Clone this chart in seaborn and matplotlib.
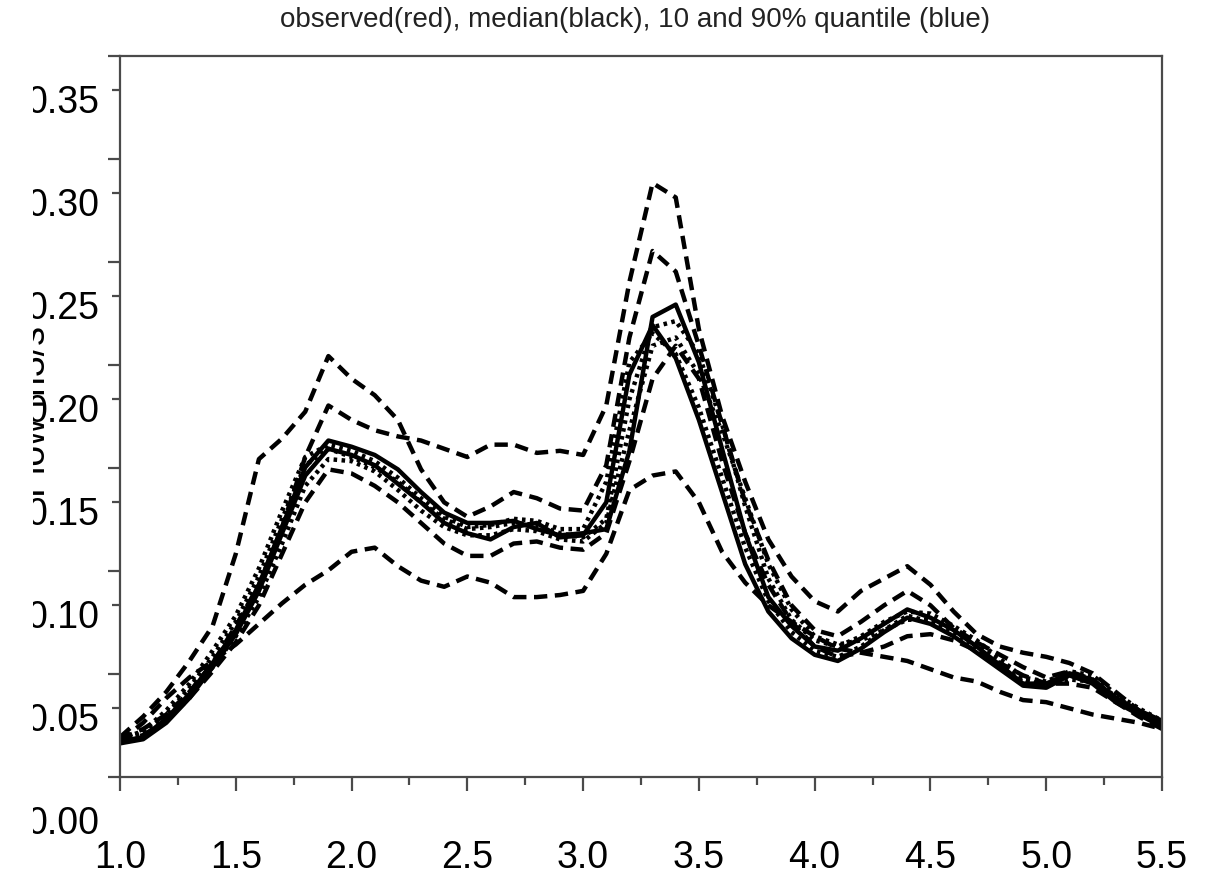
import numpy as np
import pandas as pd
import seaborn as sns
import matplotlib.pyplot as plt
import matplotlib.transforms as mtransforms
from matplotlib.patches import Rectangle

# ---- data -------------------------------------------------------------
flow_x = [1.0, 1.1, 1.2, 1.3, 1.4, 1.5, 1.6, 1.7, 1.8, 1.9,
          2.0, 2.1, 2.2, 2.3, 2.4, 2.5, 2.6, 2.7, 2.8, 2.9,
          3.0, 3.1, 3.2, 3.3, 3.4, 3.5, 3.6, 3.7, 3.8, 3.9,
          4.0, 4.1, 4.2, 4.3, 4.4, 4.5, 4.6, 4.7, 4.8, 4.9,
          5.0, 5.1, 5.2, 5.3, 5.4, 5.5]

# upper quantile bands (dashed)
q90_a = [0.035, 0.040, 0.047, 0.058, 0.072, 0.090, 0.110, 0.138, 0.172, 0.197,
         0.190, 0.185, 0.182, 0.180, 0.176, 0.172, 0.178, 0.178, 0.174, 0.175,
         0.173, 0.197, 0.257, 0.305, 0.298, 0.234, 0.192, 0.160, 0.132, 0.114,
         0.102, 0.097, 0.107, 0.113, 0.119, 0.110, 0.097, 0.086, 0.080, 0.077,
         0.075, 0.072, 0.067, 0.058, 0.049, 0.042]
q90_b = [0.036, 0.046, 0.058, 0.073, 0.090, 0.125, 0.171, 0.181, 0.194, 0.221,
         0.210, 0.202, 0.190, 0.166, 0.150, 0.143, 0.148, 0.155, 0.152, 0.147,
         0.146, 0.168, 0.230, 0.272, 0.262, 0.226, 0.188, 0.150, 0.122, 0.100,
         0.088, 0.085, 0.092, 0.100, 0.107, 0.100, 0.089, 0.082, 0.076, 0.070,
         0.065, 0.068, 0.064, 0.055, 0.047, 0.041]
# lower quantile bands (dashed)
q10_a = [0.034, 0.037, 0.044, 0.055, 0.068, 0.082, 0.100, 0.125, 0.150, 0.166,
         0.164, 0.158, 0.150, 0.140, 0.130, 0.124, 0.124, 0.130, 0.131, 0.128,
         0.127, 0.135, 0.170, 0.210, 0.226, 0.210, 0.170, 0.135, 0.110, 0.092,
         0.080, 0.075, 0.077, 0.080, 0.085, 0.086, 0.083, 0.078, 0.072, 0.066,
         0.062, 0.062, 0.060, 0.053, 0.046, 0.040]
q10_b = [0.034, 0.043, 0.055, 0.065, 0.073, 0.081, 0.091, 0.101, 0.110, 0.117,
         0.126, 0.128, 0.119, 0.112, 0.109, 0.114, 0.111, 0.104, 0.104, 0.105,
         0.107, 0.125, 0.156, 0.163, 0.165, 0.150, 0.126, 0.111, 0.100, 0.092,
         0.085, 0.079, 0.077, 0.075, 0.073, 0.069, 0.065, 0.063, 0.058, 0.054,
         0.053, 0.050, 0.047, 0.045, 0.043, 0.040]
# observed and median (solid)
observed = [0.034, 0.036, 0.045, 0.057, 0.072, 0.088, 0.110, 0.138, 0.167, 0.180,
            0.177, 0.173, 0.166, 0.155, 0.145, 0.140, 0.140, 0.141, 0.137, 0.134,
            0.135, 0.137, 0.175, 0.240, 0.246, 0.218, 0.176, 0.135, 0.104, 0.090,
            0.080, 0.078, 0.084, 0.091, 0.098, 0.094, 0.088, 0.080, 0.071, 0.062,
            0.062, 0.067, 0.064, 0.055, 0.049, 0.044]
median = [0.033, 0.035, 0.043, 0.055, 0.070, 0.086, 0.107, 0.135, 0.163, 0.176,
          0.173, 0.168, 0.159, 0.150, 0.140, 0.135, 0.132, 0.138, 0.140, 0.133,
          0.134, 0.150, 0.212, 0.236, 0.220, 0.190, 0.155, 0.120, 0.097, 0.084,
          0.076, 0.073, 0.079, 0.087, 0.094, 0.091, 0.085, 0.077, 0.069, 0.061,
          0.060, 0.066, 0.062, 0.053, 0.047, 0.042]
# individual simulations (dotted)
sim_1 = [0.035, 0.038, 0.047, 0.060, 0.075, 0.092, 0.114, 0.142, 0.168, 0.176,
         0.172, 0.167, 0.160, 0.150, 0.142, 0.137, 0.138, 0.140, 0.139, 0.135,
         0.133, 0.142, 0.200, 0.235, 0.238, 0.222, 0.188, 0.148, 0.113, 0.093,
         0.083, 0.080, 0.085, 0.092, 0.097, 0.096, 0.090, 0.083, 0.074, 0.065,
         0.063, 0.068, 0.066, 0.057, 0.050, 0.044]
sim_2 = [0.034, 0.036, 0.044, 0.056, 0.070, 0.085, 0.104, 0.130, 0.158, 0.171,
         0.170, 0.165, 0.156, 0.146, 0.138, 0.134, 0.134, 0.137, 0.136, 0.132,
         0.131, 0.140, 0.185, 0.226, 0.230, 0.212, 0.184, 0.152, 0.120, 0.098,
         0.085, 0.081, 0.083, 0.088, 0.093, 0.093, 0.088, 0.081, 0.073, 0.064,
         0.061, 0.064, 0.063, 0.056, 0.048, 0.042]
sim_3 = [0.035, 0.039, 0.049, 0.062, 0.078, 0.095, 0.118, 0.146, 0.172, 0.178,
         0.175, 0.170, 0.162, 0.152, 0.143, 0.138, 0.139, 0.142, 0.141, 0.137,
         0.137, 0.160, 0.218, 0.232, 0.222, 0.196, 0.162, 0.128, 0.102, 0.087,
         0.078, 0.075, 0.080, 0.088, 0.095, 0.092, 0.086, 0.078, 0.070, 0.063,
         0.061, 0.066, 0.064, 0.055, 0.048, 0.043]

x_ticks = [1.0, 1.5, 2.0, 2.5, 3.0, 3.5, 4.0, 4.5, 5.0, 5.5]
x_tick_labels = ["1.0", "1.5", "2.0", "2.5", "3.0", "3.5", "4.0", "4.5", "5.0", "5.5"]
y_tick_values = [0.00, 0.05, 0.10, 0.15, 0.20, 0.25, 0.30, 0.35]
y_tick_labels = ["0.00", "0.05", "0.10", "0.15", "0.20", "0.25", "0.30", "0.35"]

title_text = "observed(red), median(black), 10 and 90% quantile (blue)"
y_label_text = "Flow m3/s"

# ---- styling ----------------------------------------------------------
sns.set_theme(style="white")
plt.rcParams["font.family"] = ["Liberation Sans", "DejaVu Sans"]

W, H, DPI = 1214, 878, 100
fig = plt.figure(figsize=(W / DPI, H / DPI), dpi=DPI, facecolor="white")
ax = fig.add_axes([120 / W, 1 - 778 / H, (1162 - 120) / W, (778 - 57) / H])
ax.set_facecolor("white")

dashed = (0, (3.0, 1.7))
dotted = (0, (0.8, 1.0))
series = [
    (q90_a, dashed, 3.2), (q90_b, dashed, 3.2),
    (q10_a, dashed, 3.2), (q10_b, dashed, 3.2),
    (sim_1, dotted, 3.2), (sim_2, dotted, 3.2), (sim_3, dotted, 3.2),
    (observed, "-", 3.2), (median, "-", 3.2),
]
for values, ls, lw in series:
    frame = pd.DataFrame({"x": flow_x, "flow": values})
    sns.lineplot(data=frame, x="x", y="flow", ax=ax, color="black",
                 linestyle=ls, linewidth=lw, estimator=None, sort=False,
                 legend=False)

frame_col = "#4a4a4a"
ax.set_xlim(1.0, 5.5)
ax.set_ylim(1 / 60, 0.35 + 1 / 60)
for sp in ax.spines.values():
    sp.set_color(frame_col)
    sp.set_linewidth(1.6)
    sp.set_visible(True)

# x axis ticks
ax.set_xticks(x_ticks)
ax.set_xticks([v + 0.25 for v in x_ticks[:-1]], minor=True)
ax.set_xticklabels(x_tick_labels, fontsize=27, color="black")
ax.tick_params(axis="x", which="major", direction="out", length=10, width=1.6,
               color=frame_col, pad=35, bottom=True)
ax.tick_params(axis="x", which="minor", direction="out", length=6, width=1.6,
               color=frame_col, bottom=True)

# y axis ticks: long marks half-way between labels, short marks elsewhere
long_marks = [1 / 60 + 0.05 * k for k in range(8)]
short_marks = [v + d for v in y_tick_values[1:] for d in (0.0, 1 / 60)]
ax.set_yticks(long_marks)
ax.set_yticks(short_marks, minor=True)
ax.set_yticklabels([])
ax.tick_params(axis="y", which="major", direction="out", length=9, width=1.6,
               color=frame_col, left=True)
ax.tick_params(axis="y", which="minor", direction="out", length=6, width=1.6,
               color=frame_col, left=True)
ax.set_xlabel("")
ax.set_ylabel("")
ax.grid(False)

# y tick labels sit slightly below their tick marks
lab_trans = mtransforms.offset_copy(ax.get_yaxis_transform(), fig=fig,
                                    x=-20, y=-12, units="dots")
for v, s in zip(y_tick_values, y_tick_labels):
    ax.text(0, v, s, transform=lab_trans, ha="right", va="center",
            fontsize=27, color="black", clip_on=False)

# axis title, partly tucked behind the tick labels
fig.text(53 / W, 1 - 412 / H, y_label_text, rotation=90, ha="right",
         va="center", fontsize=27, color="black", zorder=1)
fig.text(635 / W, 1 - 20 / H, title_text, ha="center", va="center",
         fontsize=20, color="#222222")

# left margin of the canvas is blank
fig.patches.append(Rectangle((0, 0), 33 / W, 1, transform=fig.transFigure,
                             facecolor="white", edgecolor="none", zorder=10))

fig.savefig("out.png", dpi=DPI, facecolor="white")
